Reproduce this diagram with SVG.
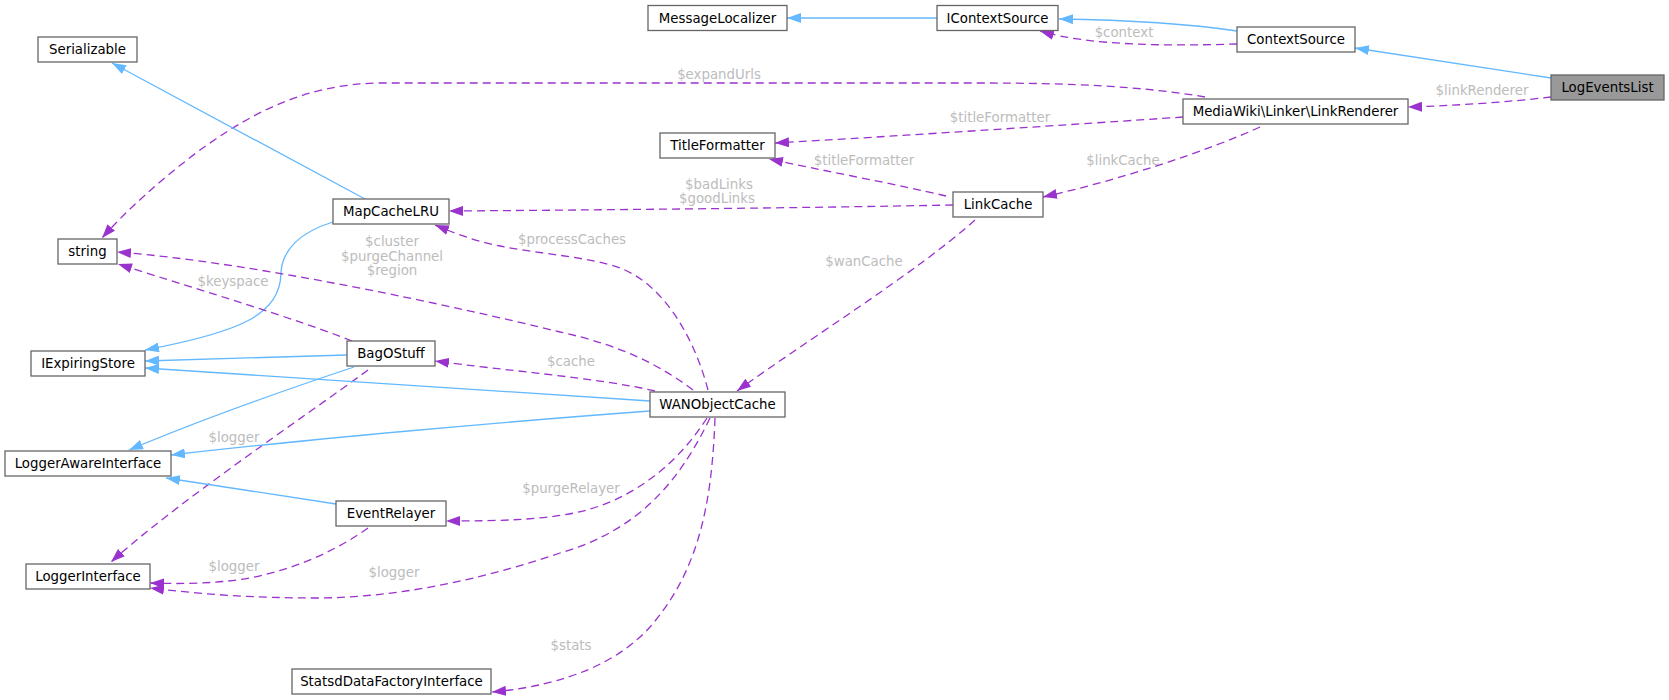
<svg xmlns="http://www.w3.org/2000/svg" width="1669" height="700" viewBox="0 0 1669 700">
<style>
.node rect{fill:#ffffff;stroke:#666666;stroke-width:1.3}
.node.root rect{fill:#999999}
.node text{font-family:"DejaVu Sans","Liberation Sans",sans-serif;font-size:13.33px;fill:#000000;text-anchor:middle}
.inh{fill:none;stroke:#63b8ff;stroke-width:1.3;marker-end:url(#ab)}
.use{fill:none;stroke:#9a32cd;stroke-width:1.3;stroke-dasharray:8,5;marker-end:url(#ap)}
.lbl{font-family:"DejaVu Sans","Liberation Sans",sans-serif;font-size:13.33px;fill:#bcbcbc;text-anchor:middle}
</style>
<defs>
<marker id="ab" markerUnits="userSpaceOnUse" viewBox="0 0 14 10" refX="14" refY="5" markerWidth="14" markerHeight="10" orient="auto">
<path d="M0,0 L14,5 L0,10 z" fill="#63b8ff"/>
</marker>
<marker id="ap" markerUnits="userSpaceOnUse" viewBox="0 0 14 10" refX="14" refY="5" markerWidth="14" markerHeight="10" orient="auto">
<path d="M0,0 L14,5 L0,10 z" fill="#9a32cd"/>
</marker>
</defs>
<rect width="1669" height="700" fill="#ffffff"/>
<g id="edges">
<path class="inh" d="M1551,78 L1355,48"/>
<path class="inh" d="M1237,31 C1190,24 1130,20 1059,19"/>
<path class="inh" d="M937,18 L787,18"/>
<path class="use" d="M1237,44 C1170,46 1090,46 1040,31"/>
<path class="use" d="M1551,97 C1510,102 1450,106 1408,107"/>
<path class="use" d="M1205,97 C1140,86 1070,83 980,83 L380,83 C300,84 245,118 200,150 C160,180 125,212 102,238"/>
<path class="use" d="M1183,117 C1080,124 900,136 775,143"/>
<path class="use" d="M1260,127 C1210,150 1120,180 1043,197"/>
<path class="use" d="M946,196 C900,185 820,170 769,159"/>
<path class="use" d="M953,205 C800,208 600,210 449,211"/>
<path class="use" d="M975,220 C920,270 800,345 737,391"/>
<path class="inh" d="M365,199 L112,63"/>
<path class="inh" d="M333,222 C300,232 282,250 281,273 C280,315 240,332 145,350"/>
<path class="inh" d="M347,355 L145,361"/>
<path class="inh" d="M354,367 C300,385 200,420 129,450"/>
<path class="use" d="M352,341 C300,320 200,290 118,264"/>
<path class="use" d="M368,370 C300,420 180,500 111,562"/>
<path class="inh" d="M650,401 L145,368"/>
<path class="inh" d="M650,411 C500,422 300,440 171,455"/>
<path class="use" d="M693,390 C660,365 620,345 560,332 C450,305 250,262 117,252"/>
<path class="use" d="M708,390 C695,340 665,285 620,268 C590,257 540,254 500,246 C470,240 450,231 435,225"/>
<path class="use" d="M655,391 C600,378 500,370 435,361"/>
<path class="use" d="M707,418 C680,460 640,495 587,510 C550,520 500,521 446,521"/>
<path class="use" d="M710,418 C680,480 640,530 560,553 C480,580 400,597 320,598 C250,598 200,594 150,588"/>
<path class="use" d="M715,418 C712,500 700,570 650,627 C620,660 570,685 492,692"/>
<path class="inh" d="M336,504 L166,478"/>
<path class="use" d="M368,528 C340,548 300,568 250,578 C215,584 180,584 150,583"/>
<text class="lbl" x="1124" y="37">$context</text>
<text class="lbl" x="1482" y="95">$linkRenderer</text>
<text class="lbl" x="719" y="79">$expandUrls</text>
<text class="lbl" x="1000" y="122">$titleFormatter</text>
<text class="lbl" x="1123" y="164.5">$linkCache</text>
<text class="lbl" x="864" y="165">$titleFormatter</text>
<text class="lbl" x="719" y="189">$badLinks</text>
<text class="lbl" x="717" y="203">$goodLinks</text>
<text class="lbl" x="864" y="266">$wanCache</text>
<text class="lbl" x="392" y="246">$cluster</text>
<text class="lbl" x="392" y="261">$purgeChannel</text>
<text class="lbl" x="392" y="275">$region</text>
<text class="lbl" x="233" y="286">$keyspace</text>
<text class="lbl" x="234" y="442">$logger</text>
<text class="lbl" x="572" y="243.5">$processCaches</text>
<text class="lbl" x="571" y="366">$cache</text>
<text class="lbl" x="571" y="493">$purgeRelayer</text>
<text class="lbl" x="234" y="571">$logger</text>
<text class="lbl" x="394" y="577">$logger</text>
<text class="lbl" x="571" y="650">$stats</text>
</g>
<g id="LogEventsList" class="node root"><rect x="1551" y="75" width="113" height="25"/><text x="1607.5" y="92">LogEventsList</text></g>
<g id="ContextSource" class="node"><rect x="1237" y="27" width="118" height="25"/><text x="1296" y="44">ContextSource</text></g>
<g id="IContextSource" class="node"><rect x="937" y="5.5" width="121" height="25"/><text x="997.5" y="22.5">IContextSource</text></g>
<g id="MessageLocalizer" class="node"><rect x="648" y="5.5" width="139" height="25"/><text x="717.5" y="22.5">MessageLocalizer</text></g>
<g id="Serializable" class="node"><rect x="38" y="37" width="99" height="25"/><text x="87.5" y="54">Serializable</text></g>
<g id="LinkRenderer" class="node"><rect x="1183" y="99" width="225" height="25"/><text x="1295.5" y="116">MediaWiki\Linker\LinkRenderer</text></g>
<g id="TitleFormatter" class="node"><rect x="660" y="133" width="115" height="25"/><text x="717.5" y="150">TitleFormatter</text></g>
<g id="MapCacheLRU" class="node"><rect x="333" y="199" width="116" height="25"/><text x="391" y="216">MapCacheLRU</text></g>
<g id="LinkCache" class="node"><rect x="953" y="192" width="90" height="25"/><text x="998" y="209">LinkCache</text></g>
<g id="string" class="node"><rect x="58" y="239" width="59" height="25"/><text x="87.5" y="256">string</text></g>
<g id="IExpiringStore" class="node"><rect x="31" y="351" width="114" height="25"/><text x="88" y="368">IExpiringStore</text></g>
<g id="BagOStuff" class="node"><rect x="347" y="341" width="88" height="25"/><text x="391" y="358">BagOStuff</text></g>
<g id="WANObjectCache" class="node"><rect x="650" y="392" width="135" height="25"/><text x="717.5" y="409">WANObjectCache</text></g>
<g id="LoggerAwareInterface" class="node"><rect x="5" y="451" width="166" height="25"/><text x="88" y="468">LoggerAwareInterface</text></g>
<g id="EventRelayer" class="node"><rect x="336" y="501" width="110" height="25"/><text x="391" y="518">EventRelayer</text></g>
<g id="LoggerInterface" class="node"><rect x="26" y="564" width="124" height="25"/><text x="88" y="581">LoggerInterface</text></g>
<g id="StatsdDataFactoryInterface" class="node"><rect x="292" y="669" width="199" height="25"/><text x="391.5" y="686">StatsdDataFactoryInterface</text></g>
</svg>
